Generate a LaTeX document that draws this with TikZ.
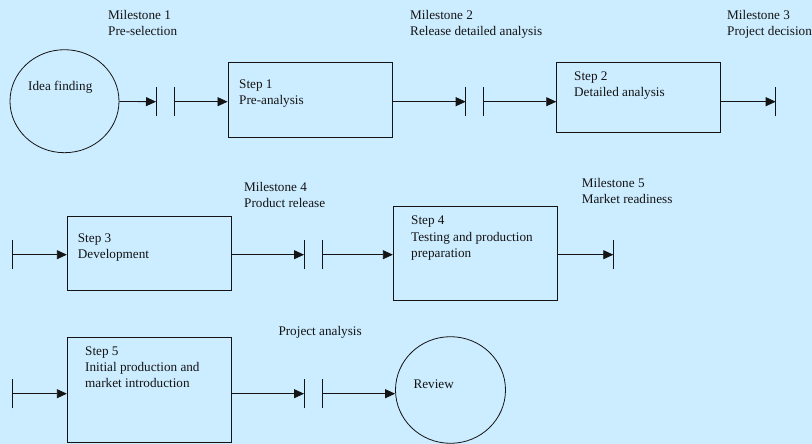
\documentclass[tikz,border=0pt]{standalone}
\usepackage{fontspec}
\setmainfont{Liberation Serif}
\usetikzlibrary{arrows.meta,shapes.geometric}
\definecolor{bgblue}{RGB}{204,236,255}
\definecolor{ink}{RGB}{20,20,20}
\tikzset{
  arr/.style={draw=ink,line width=0.8pt,-{Triangle[length=10pt,width=9pt]}},
  barline/.style={draw=ink,line width=0.9pt},
  stepbox/.style={draw=ink,line width=0.9pt,rectangle,inner sep=0pt},
  oval/.style={draw=ink,line width=0.8pt,ellipse,inner sep=0pt},
  txt/.style={anchor=base west,inner sep=0pt,align=left,text=ink,font=\fontsize{13.2}{16.2}\selectfont},
}
\begin{document}
\begin{tikzpicture}[x=1pt,y=-1pt]
\fill[bgblue] (0,0) rectangle (812,444);
\useasboundingbox (0,0) rectangle (812,444);

% shapes
\node[oval,minimum width=109pt,minimum height=103pt] (idea) at (64.5,101.2) {};
\node[stepbox,minimum width=164.7pt,minimum height=75pt] (s1) at (310.35,99.5) {};
\node[stepbox,minimum width=164pt,minimum height=70pt] (s2) at (638.7,97) {};
\node[stepbox,minimum width=164.4pt,minimum height=74.3pt] (s3) at (149.5,253.15) {};
\node[stepbox,minimum width=164pt,minimum height=93.3pt] (s4) at (475.3,253.35) {};
\node[stepbox,minimum width=164.4pt,minimum height=105.4pt] (s5) at (149.5,390) {};
\node[oval,minimum width=110pt,minimum height=106.6pt] (review) at (450.5,390) {};

% milestone bars
\coordinate (b1) at (156,101.7);
\coordinate (b2) at (174,101.7);
\coordinate (b3) at (465.7,101.7);
\coordinate (b4) at (483.7,101.7);
\coordinate (b5) at (775.7,101.7);
\coordinate (b6) at (12.7,254.7);
\coordinate (b7) at (304,254.7);
\coordinate (b8) at (322.7,254.7);
\coordinate (b9) at (613.3,254.7);
\coordinate (b10) at (12.7,393.7);
\coordinate (b11) at (304,393.7);
\coordinate (b12) at (322.7,393.7);
\foreach \b in {b1,b2,b3,b4,b5,b6,b7,b8,b9,b10,b11,b12}{
  \draw[barline] ([yshift=-14.7pt]\b) -- ([yshift=14.7pt]\b);
}

% connectors
\draw[arr] (idea) -- (b1);
\draw[arr] (b2) -- (b2 -| s1.west);
\draw[arr] (b3 -| s1.east) -- (b3);
\draw[arr] (b4) -- (b4 -| s2.west);
\draw[arr] (b5 -| s2.east) -- (b5);
\draw[arr] (b6) -- (b6 -| s3.west);
\draw[arr] (b7 -| s3.east) -- (b7);
\draw[arr] (b8) -- (b8 -| s4.west);
\draw[arr] (b9 -| s4.east) -- (b9);
\draw[arr] (b10) -- (b10 -| s5.west);
\draw[arr] (b11 -| s5.east) -- (b11);
\draw[arr] (b12) -- (b12 -| review.west);

% texts (anchor = baseline of the last line)
\node[txt] (m1) at (108,35.7) {Milestone 1\\Pre-selection};
\node[txt] (m2) at (410,35.7) {Milestone 2\\Release detailed analysis};
\node[txt] (m3) at (727,35.7) {Milestone 3\\Project decision};
\node[txt] (tidea) at (28,91) {Idea finding};
\node[txt] (t1) at (239,104.4) {Step 1\\Pre-analysis};
\node[txt] (t2) at (574,97) {Step 2\\Detailed analysis};
\node[txt] (m4) at (244,207.9) {Milestone 4\\Product release};
\node[txt] (m5) at (581.7,203.5) {Milestone 5\\Market readiness};
\node[txt] (t3) at (77.7,258.4) {Step 3\\Development};
\node[txt] (t4) at (411,257.2) {Step 4\\Testing and production\\preparation};
\node[txt] (pa) at (278.3,335.3) {Project analysis};
\node[txt] (t5) at (85,387.9) {Step 5\\Initial production and\\market introduction};
\node[txt] (trev) at (413.3,388.3) {Review};
\end{tikzpicture}
\end{document}
